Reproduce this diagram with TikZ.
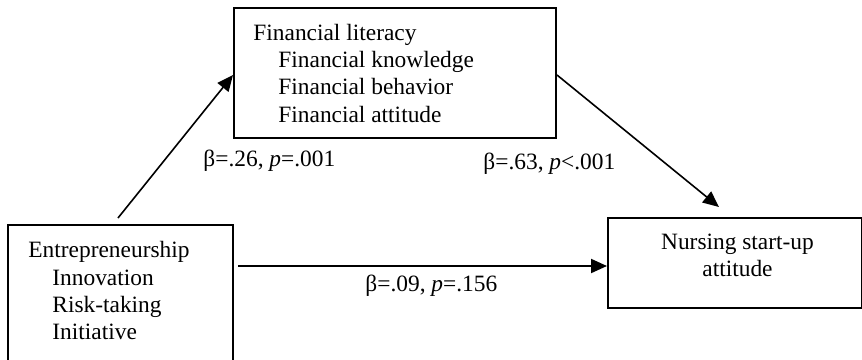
\documentclass[tikz,border=0pt]{standalone}
\usepackage{fontspec}
\setmainfont{Liberation Serif}
\usetikzlibrary{arrows.meta}
\begin{document}
\begin{tikzpicture}[x=0.5pt,y=-0.5pt,
  font=\fontsize{11.7}{13.65}\selectfont,
  box/.style={draw,line width=1pt,rectangle,inner sep=0pt,anchor=north west},
  txt/.style={inner sep=0pt,anchor=base west},
  lbl/.style={inner sep=0pt,anchor=base west},
  arr/.style={-{Triangle[length=8pt,width=7pt]},line width=0.8pt}]
\useasboundingbox (0,0) rectangle (862,359);
% boxes
\node[box,minimum width=161pt,minimum height=65pt] (fin) at (233,7) {};
\node[box,minimum width=112.5pt,minimum height=80pt] (ent) at (7,224) {};
\node[box,minimum width=127pt,minimum height=45pt] (nsa) at (607,217) {};
% texts
\node[txt] (f1) at (253,40) {Financial literacy};
\node[txt] (f2) at (278,67.3) {Financial knowledge};
\node[txt] (f3) at (278,94.6) {Financial behavior};
\node[txt] (f4) at (278,122) {Financial attitude};
\node[txt] (e1) at (28,257.7) {Entrepreneurship};
\node[txt] (e2) at (52,285) {Innovation};
\node[txt] (e3) at (52,312.3) {Risk-taking};
\node[txt] (e4) at (52,339.5) {Initiative};
\node[inner sep=0pt,anchor=base] (n1) at (737.5,249.3) {Nursing start-up};
\node[inner sep=0pt,anchor=base] (n2) at (737.5,276) {attitude};
% labels
\node[lbl] (l1) at (203,166.5) {β=.26, \textit{p}=.001};
\node[lbl] (l2) at (483,169) {β=.63, \textit{p}<.001};
\node[lbl] (l3) at (365,291) {β=.09, \textit{p}=.156};
% connectors
\coordinate (a1s) at ([shift={(111,-6)}]ent.north west);
\coordinate (a1e) at ([shift={(0,2)}]fin.west);
\draw[arr] (a1s) -- (a1e);
\coordinate (a2s) at ([shift={(0,2)}]fin.east);
\coordinate (a2e) at ([shift={(-16,-10)}]nsa.north);
\draw[arr] (a2s) -- (a2e);
\coordinate (a3s) at ([shift={(4,42)}]ent.north east);
\draw[arr,line width=1pt] (a3s) -- (a3s -| nsa.west);
\end{tikzpicture}
\end{document}
